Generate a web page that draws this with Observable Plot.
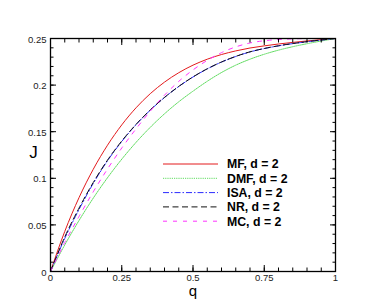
<!DOCTYPE html>
<html>
<head>
<meta charset="utf-8">
<script src="https://cdn.jsdelivr.net/npm/d3@7"></script>
<script src="https://cdn.jsdelivr.net/npm/@observablehq/plot@0.6"></script>
<style>
  html, body { margin: 0; padding: 0; background: #fff; }
  #chart { position: relative; width: 382px; height: 306px; font-family: "Liberation Sans", Arial, sans-serif; }
  #legend { position: absolute; left: 0; top: 0; pointer-events: none; }
</style>
</head>
<body>
<div id="chart"></div>
<script>
// ---- data ----
const q   = [0, 0.05, 0.1, 0.15, 0.2, 0.25, 0.3, 0.35, 0.4, 0.45, 0.5, 0.55, 0.6, 0.65, 0.7, 0.75, 0.8, 0.85, 0.9, 0.95, 1];
const MF  = [0, 0.043, 0.0792, 0.1097, 0.1355, 0.1573, 0.1756, 0.1908, 0.2032, 0.2133, 0.2214, 0.2278, 0.2328, 0.2367, 0.2398, 0.2421, 0.2441, 0.2458, 0.2474, 0.2488, 0.25];
const DMF = [0, 0.0285, 0.0547, 0.0787, 0.1006, 0.1205, 0.1385, 0.1547, 0.1692, 0.1821, 0.1935, 0.2041, 0.2135, 0.2214, 0.2278, 0.2331, 0.2375, 0.2412, 0.2444, 0.2473, 0.25];
const ISA = [0, 0.0355, 0.0665, 0.0945, 0.1188, 0.1395, 0.1575, 0.1731, 0.1867, 0.1985, 0.2087, 0.2174, 0.2247, 0.2307, 0.2356, 0.2392, 0.2421, 0.2445, 0.2465, 0.2483, 0.25];
const NR  = [0, 0.037, 0.068, 0.0955, 0.1195, 0.14, 0.1578, 0.1733, 0.1868, 0.1986, 0.2088, 0.2175, 0.2248, 0.2308, 0.2357, 0.2393, 0.2422, 0.2446, 0.2466, 0.2484, 0.25];
const MC  = [0, 0.031, 0.059, 0.0855, 0.11, 0.1325, 0.153, 0.172, 0.1892, 0.204, 0.2163, 0.2265, 0.2348, 0.241, 0.2452, 0.2476, 0.2489, 0.2496, 0.2499, 0.25, 0.25];

const seriesNames = ["MF, d = 2", "DMF, d = 2", "ISA, d = 2", "NR, d = 2", "MC, d = 2"];
const seriesValues = [MF, DMF, ISA, NR, MC];
const seriesColors = ["#e31a1c", "#5fdc5f", "#2a2aff", "#111111", "#ff33ff"];
const seriesDash = ["none", "1.2,1", "6,2,1.5,2", "6,3.5", "4,6"];

const xMajor = [0, 0.25, 0.5, 0.75, 1];
const xMinor = d3.range(0, 1.0001, 0.05).map(v => +v.toFixed(2));
const yMajor = [0, 0.05, 0.1, 0.15, 0.2, 0.25];
const yMinor = d3.range(0, 0.25001, 0.01).map(v => +v.toFixed(2));

const rows = seriesNames.map((name, k) => q.map((qq, i) => ({ q: qq, J: seriesValues[k][i], name })));

const font = '"Liberation Sans", Arial, sans-serif';
const fmt = d => String(d);
const blank = () => "";

const tickAxes = [];
for (const [vals, size] of [[xMinor, 3.5], [xMajor, 6]]) {
  tickAxes.push(Plot.axisX({anchor: "bottom", ticks: vals, tickSize: size, dy: -size, tickFormat: blank, label: null, stroke: "black"}));
  tickAxes.push(Plot.axisX({anchor: "top", ticks: vals, tickSize: size, dy: size, tickFormat: blank, label: null, stroke: "black"}));
}
for (const [vals, size] of [[yMinor, 3.5], [yMajor, 6]]) {
  tickAxes.push(Plot.axisY({anchor: "left", ticks: vals, tickSize: size, dx: size, tickFormat: blank, label: null, stroke: "black"}));
  tickAxes.push(Plot.axisY({anchor: "right", ticks: vals, tickSize: size, dx: -size, tickFormat: blank, label: null, stroke: "black"}));
}

const plot = Plot.plot({
  width: 382,
  height: 306,
  marginLeft: 50,
  marginRight: 47,
  marginTop: 38,
  marginBottom: 35,
  style: {fontFamily: font, background: "white", color: "black"},
  x: {domain: [0, 1], label: null},
  y: {domain: [0, 0.25], label: null},
  marks: [
    ...rows.map((r, k) => Plot.line(r, {
      x: "q", y: "J", stroke: seriesColors[k], strokeWidth: 1,
      strokeDasharray: seriesDash[k], curve: "monotone-x"
    })),
    ...tickAxes,
    Plot.axisX({anchor: "bottom", ticks: xMajor, tickSize: 0, tickPadding: 3, tickFormat: fmt, label: null, fontSize: 9.5, fill: "#222"}),
    Plot.axisY({anchor: "left", ticks: yMajor, tickSize: 0, tickPadding: 4, tickFormat: fmt, label: null, fontSize: 9.5, fill: "#222", dy: 1}),
    Plot.frame({stroke: "black", strokeWidth: 1.3}),
    Plot.text(["J"], {frameAnchor: "left", dx: -17, dy: -2, text: d => d, fontSize: 17, textAnchor: "middle", lineAnchor: "middle", fill: "black"}),
    Plot.text(["q"], {frameAnchor: "bottom", dy: 20, text: d => d, fontSize: 15, textAnchor: "middle", lineAnchor: "middle", fill: "black"})
  ]
});

const chart = document.getElementById("chart");
chart.appendChild(plot);

// ---- legend overlay ----
const NS = "http://www.w3.org/2000/svg";
const lg = document.createElementNS(NS, "svg");
lg.setAttribute("id", "legend");
lg.setAttribute("width", 382);
lg.setAttribute("height", 306);
const lx0 = 163, lx1 = 218, tx = 227, ly0 = 164, step = 14.3;
seriesNames.forEach((name, k) => {
  const y = ly0 + k * step;
  const ln = document.createElementNS(NS, "line");
  ln.setAttribute("x1", lx0); ln.setAttribute("x2", lx1);
  ln.setAttribute("y1", y); ln.setAttribute("y2", y);
  ln.setAttribute("stroke", seriesColors[k]);
  ln.setAttribute("stroke-width", 1);
  if (seriesDash[k] !== "none") ln.setAttribute("stroke-dasharray", seriesDash[k]);
  lg.appendChild(ln);
  const t = document.createElementNS(NS, "text");
  t.setAttribute("x", tx); t.setAttribute("y", y);
  t.setAttribute("dy", "0.36em");
  t.setAttribute("font-family", font);
  t.setAttribute("font-weight", "bold");
  t.setAttribute("font-size", 12.3);
  t.setAttribute("fill", "black");
  t.textContent = name;
  lg.appendChild(t);
});
chart.appendChild(lg);
</script>
</body>
</html>
